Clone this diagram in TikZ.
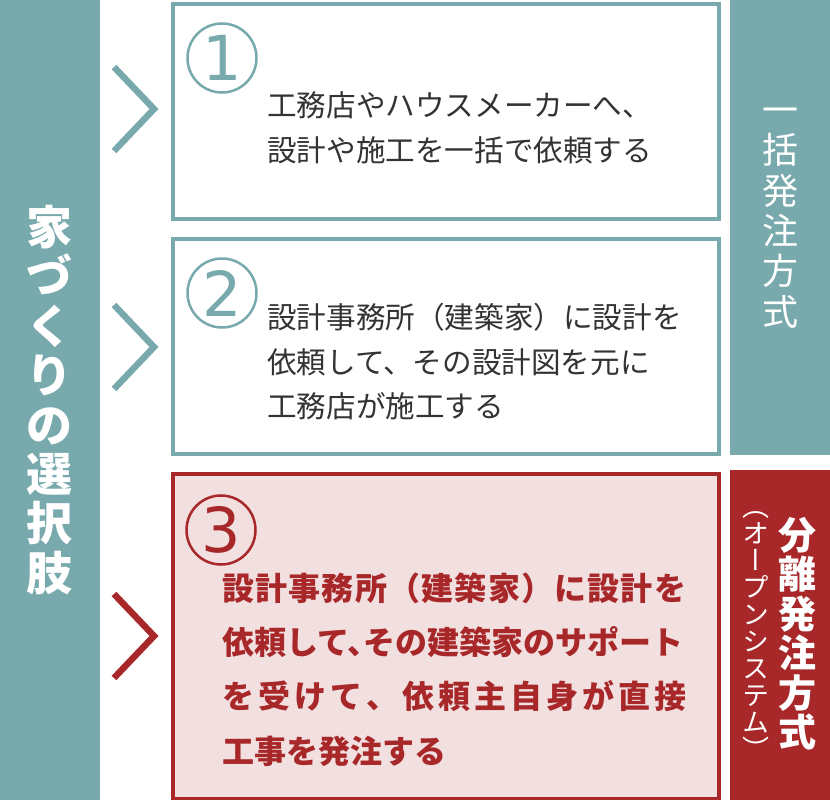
\documentclass[tikz,border=0pt]{standalone}
\usepackage{fontspec}
\newfontfamily\jp{Noto Sans CJK JP}
\newfontfamily\jpv[RawFeature=+vert]{Noto Sans CJK JP}
\newfontfamily\numf{DejaVu Sans}
\definecolor{tealc}{HTML}{78A9AD}
\definecolor{redc}{HTML}{A8282A}
\definecolor{pinkc}{HTML}{F2DFE0}
\definecolor{txtc}{HTML}{333333}
\makeatletter
\def\jst@loop#1#2\jst@end{#1\if\relax\detokenize{#2}\relax\else\hfill\jst@loop#2\jst@end\fi}
\newcommand\jst[2]{\hbox to #1{\jst@loop#2\jst@end}}
\makeatother
\tikzset{
  bar/.style={inner sep=0pt, outer sep=0pt, minimum width=100pt, anchor=north west},
  optbox/.style={line width=4pt, inner sep=0pt, minimum width=546pt, anchor=north west},
  chev/.style={line width=6.5pt, line join=miter},
  numcirc/.style={circle, draw, line width=2.5pt, minimum size=69pt, inner sep=0pt, font=\numf\fontsize{62}{62}\selectfont},
  bodytxt/.style={anchor=west, align=left, inner sep=0pt, text=txtc, font=\jp\fontsize{29.6}{44.5}\selectfont},
  redtxt/.style={anchor=west, align=left, inner sep=0pt, text=redc, font=\jp\bfseries\fontsize{32}{54.3}\selectfont},
  vtxt/.style={align=center, inner sep=0pt, text=white}
}
\begin{document}
\begin{tikzpicture}[x=1pt,y=-1pt]
\useasboundingbox (0,0) rectangle (830,800);
% side bars
\node[bar, fill=tealc, minimum height=800pt] (leftbar) at (0,0) {};
\node[bar, fill=tealc, minimum height=455pt] (rbar1) at (730,0) {};
\node[bar, fill=redc, minimum height=330pt] (rbar2) at (730,470) {};
% option boxes
\node[optbox, draw=tealc, fill=white, minimum height=215pt] (b1) at (171,2) {};
\node[optbox, draw=tealc, fill=white, minimum height=215pt] (b2) at (171,237) {};
\node[optbox, draw=redc, fill=pinkc, minimum height=325pt] (b3) at (171,472) {};
% chevrons
\draw[chev, tealc] (114,67) -- (154,109) -- (114,151);
\draw[chev, tealc] (114,305) -- (154,347) -- (114,389);
\draw[chev, redc] (114,594) -- (154,636) -- (114,678);
% numbers
\node[numcirc, draw=tealc, text=tealc] (n1) at (222,58) {1};
\node[numcirc, draw=tealc, text=tealc] (n2) at (222,293) {2};
\node[numcirc, draw=redc, text=redc] (n3) at (221,530) {3};
% texts
\node[bodytxt] (t1) at (267,128) {工務店やハウスメーカーへ、\\設計や施工を一括で依頼する};
\node[bodytxt] (t2) at (267,362) {設計事務所（建築家）に設計を\\依頼して、その設計図を元に\\工務店が施工する};
\node[redtxt] (t3) at (222,669.5) {\jst{464pt}{設計事務所（建築家）に設計を}\\依頼して、\kern-0.5em その建築家のサポート\\\jst{464pt}{を受けて、依頼主自身が直接}\\工事を発注する};
% vertical labels
\node[vtxt, font=\jp\bfseries\fontsize{46}{49.4}\selectfont] (lt) at (50,400) {家\\づ\\く\\り\\の\\選\\択\\肢};
\node[vtxt, font=\jp\fontsize{36}{40.4}\selectfont] (r1t) at (780,218) {一\\括\\発\\注\\方\\式};
\node[vtxt, font=\jp\bfseries\fontsize{38}{39.5}\selectfont] (r2t) at (797,633.5) {分\\離\\発\\注\\方\\式};
\node[vtxt, font=\jpv\fontsize{27}{27}\selectfont] (r2s) at (756,635) {（\\オ\\ー\\プ\\ン\\シ\\ス\\テ\\ム\\）};
\end{tikzpicture}
\end{document}
